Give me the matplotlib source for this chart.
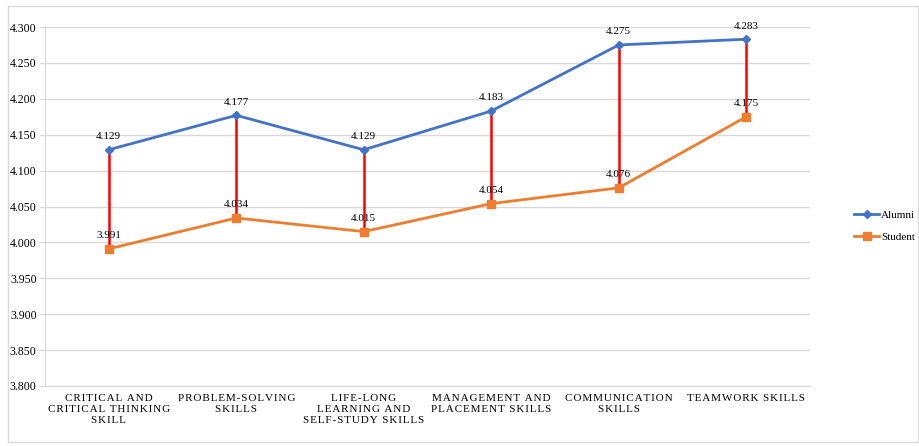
import numpy as np
import matplotlib.pyplot as plt
from matplotlib.patches import Rectangle

plt.rcParams['font.family'] = ['Liberation Serif', 'DejaVu Serif']

categories = ['CRITICAL AND\nCRITICAL THINKING\nSKILL', 'PROBLEM-SOLVING\nSKILLS',
              'LIFE-LONG\nLEARNING AND\nSELF-STUDY SKILLS', 'MANAGEMENT AND\nPLACEMENT SKILLS',
              'COMMUNICATION\nSKILLS', 'TEAMWORK SKILLS']
alumni = [4.129, 4.177, 4.129, 4.183, 4.275, 4.283]
student = [3.991, 4.034, 4.015, 4.054, 4.076, 4.175]


def spaced(s):
    # imitate the wide letter spacing of the original labels
    return '\n'.join('\u200a'.join(line) for line in s.split('\n'))


fig = plt.figure(figsize=(9.2, 4.46), dpi=100)
ax = fig.add_axes([45 / 920, 1 - 386 / 446, 765 / 920, 359 / 446])

x = np.arange(len(categories))

# high-low lines
ax.vlines(x, student, alumni, color='#FF0000', lw=1.8, zorder=3)

ax.plot(x, alumni, color='#4472C4', lw=2, marker='D', ms=4.5, label='Alumni', zorder=4)
ax.plot(x, student, color='#ED7D31', lw=2, marker='s', ms=6, label='Student', zorder=4)

for xi, v in zip(x, alumni):
    ax.text(xi, v + 0.012, f'{v:.3f}', ha='center', va='bottom', fontsize=8)
for xi, v in zip(x, student):
    ax.text(xi, v + 0.012, f'{v:.3f}', ha='center', va='bottom', fontsize=8)

ax.set_xlim(-0.5, len(categories) - 0.5)
ax.set_ylim(3.8, 4.3)
ax.set_yticks(np.arange(3.8, 4.3001, 0.05))
ax.yaxis.set_major_formatter(plt.FuncFormatter(lambda v, p: f'{v:.3f}'))
ax.tick_params(axis='y', labelsize=8.5, length=4, color='#d9d9d9', pad=2)
ax.set_xticks(x)
ax.set_xticklabels([spaced(c) for c in categories], fontsize=8, linespacing=1.25)
ax.tick_params(axis='x', length=0, pad=6)
ax.grid(axis='y', color='#d9d9d9', lw=1)
ax.set_axisbelow(True)
for s in ['top', 'right']:
    ax.spines[s].set_visible(False)
for s in ['left', 'bottom']:
    ax.spines[s].set_color('#d9d9d9')

ax.legend(loc='center left', bbox_to_anchor=(1.045, 0.446), frameon=False, fontsize=8,
          handlelength=2.2, handletextpad=0.2, labelspacing=1.1)

fig.patches.append(Rectangle((8 / 920, 4 / 446), 910 / 920, 436 / 446, transform=fig.transFigure,
                             fill=False, edgecolor='#d9d9d9', lw=1))

fig.savefig('out.png', dpi=100)
